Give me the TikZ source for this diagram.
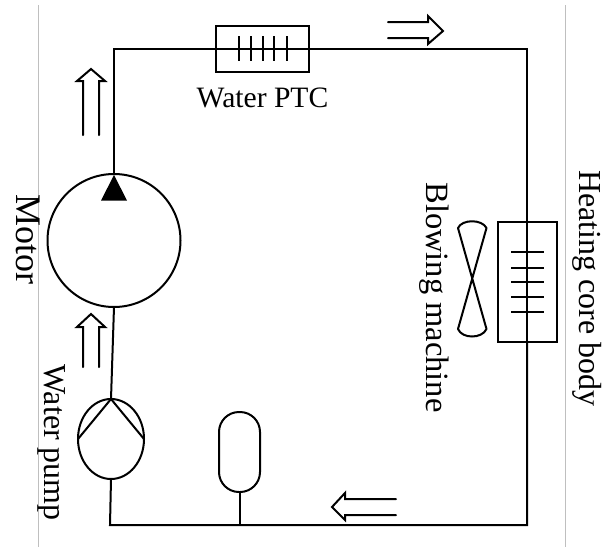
\documentclass[tikz,border=0pt]{standalone}
\usepackage{fontspec}
\setmainfont{Liberation Serif}
\usetikzlibrary{shapes.geometric}
\tikzset{
  wire/.style={draw=black,line width=2pt,line join=miter},
  part/.style={draw=black,line width=2pt,inner sep=0pt,outer sep=0pt,fill=none},
  flow/.style={draw=black,line width=2pt,line join=miter,line cap=round},
  guide/.style={draw=black!25,line width=0.9pt},
  lab/.style={inner sep=0pt,outer sep=0pt,text=black},
  vlab/.style={lab,rotate=-90}
}
\begin{document}
\begin{tikzpicture}[x=1pt,y=-1pt]
\useasboundingbox (0,0) rectangle (603,547);
% guides
\coordinate (g1a) at (38,5); \coordinate (g1b) at (38,547);
\coordinate (g2a) at (565,5); \coordinate (g2b) at (565,547);
\draw[guide] (g1a) -- (g1b);
\draw[guide] (g2a) -- (g2b);
% parts
\node[part,circle,minimum size=133pt] (motor) at (114,240.5) {};
\node[part,ellipse,minimum width=66pt,minimum height=80pt] (pump) at (111,439) {};
\node[part,rectangle,minimum width=93pt,minimum height=46pt] (ptc) at (262.5,48.5) {};
\node[part,rectangle,minimum width=59pt,minimum height=120pt] (core) at (527,282) {};
\node[part,rectangle,rounded corners=20pt,minimum width=41pt,minimum height=80pt] (tank) at (239.5,452) {};
% corners
\coordinate (tl) at (114,48.5);
\coordinate (tr) at (527,48.5);
\coordinate (br) at (527,525);
\coordinate (bl) at (110,525);
\coordinate (tee) at (239.5,525);
% loop
\draw[wire] (motor.north) -- (tl) -- (ptc.west);
\draw[wire] (ptc.west) -- (ptc.east);
\draw[wire] (ptc.east) -- (tr) -- (core.north);
\draw[wire] (core.north) -- (core.south);
\draw[wire] (core.south) -- (br) -- (bl) -- (pump.south);
\draw[wire] (tank.south) -- (tee);
\draw[wire] (pump.north) -- (motor.south);
% pump vanes
\draw[wire] (pump.west) -- (pump.north) -- (pump.east);
% motor triangle
\fill[black] (114,175) -- (127,200.5) -- (101,200.5) -- cycle;
% PTC bars
\foreach \x in {239,251,263,274,287} \draw[wire] (\x,36) -- (\x,61);
% core bars
\foreach \y in {252,267.5,282,297,312} \draw[wire] (511,\y) -- (544,\y);
% fan
\draw[wire,line join=round] (458,228) .. controls (462,219) and (482,219) .. (486.5,228)
  -- (458,329) .. controls (462,339) and (482,339) .. (486.5,329) -- cycle;
% flow arrows
\draw[flow] (83,135) -- (83,81) -- (77,81) -- (91,69) -- (105,81) -- (99,81) -- (99,135);
\draw[flow] (83,367) -- (83,327) -- (77,327) -- (91,314) -- (105,327) -- (99,327) -- (99,367);
\draw[flow] (388,22) -- (428,22) -- (428,16) -- (443,31) -- (428,44) -- (428,38) -- (388,38);
\draw[flow] (396,499) -- (345,499) -- (345,493) -- (332,507) -- (345,520) -- (345,515) -- (396,515);
% labels
\node[lab,font=\fontsize{29.6}{31}\selectfont] (lptc) at (262.5,98) {Water PTC};
\node[vlab,font=\fontsize{36}{38}\selectfont] (lmotor) at (28,239) {Motor};
\node[vlab,font=\fontsize{32}{34}\selectfont] (lpump) at (52,442.5) {Water pump};
\node[vlab,font=\fontsize{32.5}{34}\selectfont] (lblow) at (434,297.5) {Blowing machine};
\node[vlab,font=\fontsize{32}{34}\selectfont] (lheat) at (587,288.5) {Heating core body};
\end{tikzpicture}
\end{document}
